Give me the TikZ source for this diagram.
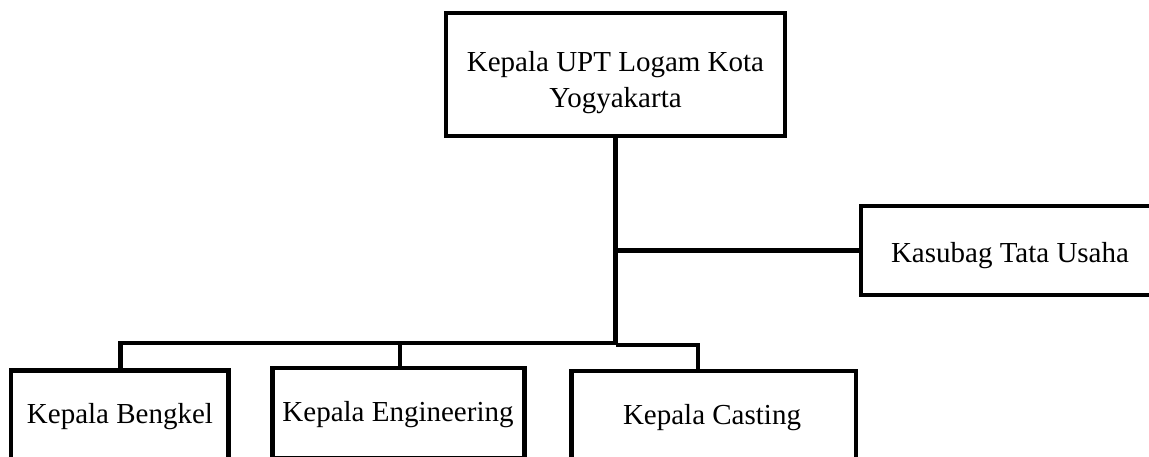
\documentclass[tikz,border=0pt]{standalone}
\usepackage{fontspec}
\setmainfont{Liberation Serif}
\begin{document}
\begin{tikzpicture}[x=1pt,y=-1pt,line width=4.8pt,
  box/.style={draw,rectangle,inner sep=0pt,outer sep=0pt},
  lbl/.style={anchor=base,inner sep=0pt,font=\fontsize{29}{29}\selectfont}]
\useasboundingbox (0,0) rectangle (1149,457);
\clip (0,0) rectangle (1149,457);
% boxes
\node[box,minimum width=339pt,minimum height=123pt] (top) at (615.5,74.5) {};
\node[box,minimum width=299pt,minimum height=89pt] (kas) at (1010.5,250.5) {};
\node[box,minimum width=217.5pt,minimum height=91.5pt] (beng) at (119.75,416.25) {};
\node[box,minimum width=252pt,minimum height=90.5pt] (eng) at (398.5,413.25) {};
\node[box,minimum width=284.5pt,minimum height=91pt] (cast) at (713.75,416.5) {};
% texts
\node[lbl] (ttop1) at (615.5,71.5) {Kepala UPT Logam Kota};
\node[lbl] (ttop2) at (615.5,107.5) {Yogyakarta};
\node[lbl] (tkas) at (1010,262) {Kasubag Tata Usaha};
\node[lbl] (tbeng) at (120,423.5) {Kepala Bengkel};
\node[lbl] (teng) at (398,421) {Kepala Engineering};
\node[lbl] (tcast) at (712,424) {Kepala Casting};
% connectors
\coordinate (bus) at (615.5,343);
\coordinate (bus2) at (615.5,345);
\draw (top.south) -- (bus2);
\draw (top.south |- kas.west) -- (kas.west);
\draw ([xshift=0.75pt]beng.north) |- (bus);
\draw ([xshift=1.5pt]eng.north) -- ([xshift=1.5pt]eng.north |- bus);
\draw (bus2) -| ([xshift=-15.75pt]cast.north);
\end{tikzpicture}
\end{document}
